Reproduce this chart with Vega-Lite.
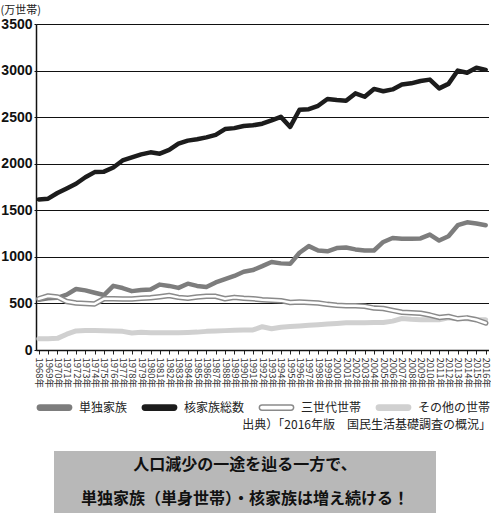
{
 "$schema": "https://vega.github.io/schema/vega-lite/v6.json",
 "padding": {"left": 0, "top": 4, "right": 0, "bottom": 5},
 "background": "white",
 "config": {"view": {"stroke": null}, "font": "Liberation Sans"},
 "datasets": {"main": [
{"year":1968,"s":"単独家族","v":540},{"year":1969,"s":"単独家族","v":555},{"year":1970,"s":"単独家族","v":560},{"year":1971,"s":"単独家族","v":595},{"year":1972,"s":"単独家族","v":655},{"year":1973,"s":"単独家族","v":640},{"year":1974,"s":"単独家族","v":615},{"year":1975,"s":"単独家族","v":590},{"year":1976,"s":"単独家族","v":689},{"year":1977,"s":"単独家族","v":665},{"year":1978,"s":"単独家族","v":632},{"year":1979,"s":"単独家族","v":643},{"year":1980,"s":"単独家族","v":650},{"year":1981,"s":"単独家族","v":702},{"year":1982,"s":"単独家族","v":688},{"year":1983,"s":"単独家族","v":667},{"year":1984,"s":"単独家族","v":712},{"year":1985,"s":"単独家族","v":688},{"year":1986,"s":"単独家族","v":676},{"year":1987,"s":"単独家族","v":725},{"year":1988,"s":"単独家族","v":760},{"year":1989,"s":"単独家族","v":795},{"year":1990,"s":"単独家族","v":840},{"year":1991,"s":"単独家族","v":858},{"year":1992,"s":"単独家族","v":900},{"year":1993,"s":"単独家族","v":945},{"year":1994,"s":"単独家族","v":930},{"year":1995,"s":"単独家族","v":925},{"year":1996,"s":"単独家族","v":1044},{"year":1997,"s":"単独家族","v":1115},{"year":1998,"s":"単独家族","v":1068},{"year":1999,"s":"単独家族","v":1060},{"year":2000,"s":"単独家族","v":1095},{"year":2001,"s":"単独家族","v":1100},{"year":2002,"s":"単独家族","v":1080},{"year":2003,"s":"単独家族","v":1068},{"year":2004,"s":"単独家族","v":1068},{"year":2005,"s":"単独家族","v":1160},{"year":2006,"s":"単独家族","v":1203},{"year":2007,"s":"単独家族","v":1195},{"year":2008,"s":"単独家族","v":1195},{"year":2009,"s":"単独家族","v":1198},{"year":2010,"s":"単独家族","v":1239},{"year":2011,"s":"単独家族","v":1175},{"year":2012,"s":"単独家族","v":1221},{"year":2013,"s":"単独家族","v":1340},{"year":2014,"s":"単独家族","v":1371},{"year":2015,"s":"単独家族","v":1358},{"year":2016,"s":"単独家族","v":1340},
{"year":1968,"s":"核家族総数","v":1617},{"year":1969,"s":"核家族総数","v":1625},{"year":1970,"s":"核家族総数","v":1685},{"year":1971,"s":"核家族総数","v":1735},{"year":1972,"s":"核家族総数","v":1785},{"year":1973,"s":"核家族総数","v":1855},{"year":1974,"s":"核家族総数","v":1910},{"year":1975,"s":"核家族総数","v":1915},{"year":1976,"s":"核家族総数","v":1960},{"year":1977,"s":"核家族総数","v":2035},{"year":1978,"s":"核家族総数","v":2068},{"year":1979,"s":"核家族総数","v":2100},{"year":1980,"s":"核家族総数","v":2122},{"year":1981,"s":"核家族総数","v":2108},{"year":1982,"s":"核家族総数","v":2148},{"year":1983,"s":"核家族総数","v":2215},{"year":1984,"s":"核家族総数","v":2248},{"year":1985,"s":"核家族総数","v":2263},{"year":1986,"s":"核家族総数","v":2283},{"year":1987,"s":"核家族総数","v":2310},{"year":1988,"s":"核家族総数","v":2372},{"year":1989,"s":"核家族総数","v":2382},{"year":1990,"s":"核家族総数","v":2405},{"year":1991,"s":"核家族総数","v":2412},{"year":1992,"s":"核家族総数","v":2430},{"year":1993,"s":"核家族総数","v":2465},{"year":1994,"s":"核家族総数","v":2503},{"year":1995,"s":"核家族総数","v":2395},{"year":1996,"s":"核家族総数","v":2579},{"year":1997,"s":"核家族総数","v":2585},{"year":1998,"s":"核家族総数","v":2622},{"year":1999,"s":"核家族総数","v":2695},{"year":2000,"s":"核家族総数","v":2684},{"year":2001,"s":"核家族総数","v":2676},{"year":2002,"s":"核家族総数","v":2755},{"year":2003,"s":"核家族総数","v":2719},{"year":2004,"s":"核家族総数","v":2803},{"year":2005,"s":"核家族総数","v":2778},{"year":2006,"s":"核家族総数","v":2798},{"year":2007,"s":"核家族総数","v":2850},{"year":2008,"s":"核家族総数","v":2863},{"year":2009,"s":"核家族総数","v":2888},{"year":2010,"s":"核家族総数","v":2903},{"year":2011,"s":"核家族総数","v":2809},{"year":2012,"s":"核家族総数","v":2857},{"year":2013,"s":"核家族総数","v":3000},{"year":2014,"s":"核家族総数","v":2976},{"year":2015,"s":"核家族総数","v":3030},{"year":2016,"s":"核家族総数","v":3008},
{"year":1968,"s":"三世代世帯","v":550},{"year":1969,"s":"三世代世帯","v":580},{"year":1970,"s":"三世代世帯","v":570},{"year":1971,"s":"三世代世帯","v":520},{"year":1972,"s":"三世代世帯","v":505},{"year":1973,"s":"三世代世帯","v":500},{"year":1974,"s":"三世代世帯","v":495},{"year":1975,"s":"三世代世帯","v":550},{"year":1976,"s":"三世代世帯","v":550},{"year":1977,"s":"三世代世帯","v":548},{"year":1978,"s":"三世代世帯","v":548},{"year":1979,"s":"三世代世帯","v":555},{"year":1980,"s":"三世代世帯","v":560},{"year":1981,"s":"三世代世帯","v":572},{"year":1982,"s":"三世代世帯","v":585},{"year":1983,"s":"三世代世帯","v":565},{"year":1984,"s":"三世代世帯","v":555},{"year":1985,"s":"三世代世帯","v":570},{"year":1986,"s":"三世代世帯","v":576},{"year":1987,"s":"三世代世帯","v":576},{"year":1988,"s":"三世代世帯","v":550},{"year":1989,"s":"三世代世帯","v":565},{"year":1990,"s":"三世代世帯","v":555},{"year":1991,"s":"三世代世帯","v":550},{"year":1992,"s":"三世代世帯","v":540},{"year":1993,"s":"三世代世帯","v":535},{"year":1994,"s":"三世代世帯","v":530},{"year":1995,"s":"三世代世帯","v":510},{"year":1996,"s":"三世代世帯","v":515},{"year":1997,"s":"三世代世帯","v":510},{"year":1998,"s":"三世代世帯","v":505},{"year":1999,"s":"三世代世帯","v":490},{"year":2000,"s":"三世代世帯","v":480},{"year":2001,"s":"三世代世帯","v":475},{"year":2002,"s":"三世代世帯","v":475},{"year":2003,"s":"三世代世帯","v":470},{"year":2004,"s":"三世代世帯","v":450},{"year":2005,"s":"三世代世帯","v":445},{"year":2006,"s":"三世代世帯","v":425},{"year":2007,"s":"三世代世帯","v":405},{"year":2008,"s":"三世代世帯","v":400},{"year":2009,"s":"三世代世帯","v":395},{"year":2010,"s":"三世代世帯","v":375},{"year":2011,"s":"三世代世帯","v":350},{"year":2012,"s":"三世代世帯","v":360},{"year":2013,"s":"三世代世帯","v":335},{"year":2014,"s":"三世代世帯","v":345},{"year":2015,"s":"三世代世帯","v":325},{"year":2016,"s":"三世代世帯","v":290},
{"year":1968,"s":"その他の世帯","v":120},{"year":1969,"s":"その他の世帯","v":120},{"year":1970,"s":"その他の世帯","v":125},{"year":1971,"s":"その他の世帯","v":170},{"year":1972,"s":"その他の世帯","v":205},{"year":1973,"s":"その他の世帯","v":210},{"year":1974,"s":"その他の世帯","v":210},{"year":1975,"s":"その他の世帯","v":208},{"year":1976,"s":"その他の世帯","v":205},{"year":1977,"s":"その他の世帯","v":200},{"year":1978,"s":"その他の世帯","v":182},{"year":1979,"s":"その他の世帯","v":190},{"year":1980,"s":"その他の世帯","v":186},{"year":1981,"s":"その他の世帯","v":185},{"year":1982,"s":"その他の世帯","v":185},{"year":1983,"s":"その他の世帯","v":186},{"year":1984,"s":"その他の世帯","v":188},{"year":1985,"s":"その他の世帯","v":192},{"year":1986,"s":"その他の世帯","v":200},{"year":1987,"s":"その他の世帯","v":205},{"year":1988,"s":"その他の世帯","v":208},{"year":1989,"s":"その他の世帯","v":212},{"year":1990,"s":"その他の世帯","v":214},{"year":1991,"s":"その他の世帯","v":215},{"year":1992,"s":"その他の世帯","v":250},{"year":1993,"s":"その他の世帯","v":228},{"year":1994,"s":"その他の世帯","v":245},{"year":1995,"s":"その他の世帯","v":252},{"year":1996,"s":"その他の世帯","v":258},{"year":1997,"s":"その他の世帯","v":265},{"year":1998,"s":"その他の世帯","v":272},{"year":1999,"s":"その他の世帯","v":278},{"year":2000,"s":"その他の世帯","v":285},{"year":2001,"s":"その他の世帯","v":292},{"year":2002,"s":"その他の世帯","v":293},{"year":2003,"s":"その他の世帯","v":293},{"year":2004,"s":"その他の世帯","v":294},{"year":2005,"s":"その他の世帯","v":296},{"year":2006,"s":"その他の世帯","v":310},{"year":2007,"s":"その他の世帯","v":338},{"year":2008,"s":"その他の世帯","v":330},{"year":2009,"s":"その他の世帯","v":325},{"year":2010,"s":"その他の世帯","v":325},{"year":2011,"s":"その他の世帯","v":325},{"year":2012,"s":"その他の世帯","v":345},{"year":2013,"s":"その他の世帯","v":338},{"year":2014,"s":"その他の世帯","v":335},{"year":2015,"s":"その他の世帯","v":328},{"year":2016,"s":"その他の世帯","v":325}
 ]},
 "center": false,
 "spacing": 20,
 "resolve": {"legend": {"color": "independent"}, "scale": {"color": "independent"}},
 "vconcat": [
  {
   "width": 452.5,
   "height": 326,
   "data": {"name": "main"},
   "title": {"text": "出典）「2016年版　国民生活基礎調査の概況」", "orient": "bottom", "anchor": "end", "font": "Noto Sans CJK JP", "fontSize": 12, "fontWeight": "normal", "color": "#222", "offset": 6},
   "encoding": {
    "x": {"field": "year", "type": "ordinal", "sort": "ascending", "scale": {"type": "point", "padding": 0.3},
      "axis": {"title": null, "labelAngle": 90, "labelExpr": "datum.label + '年'", "labelFontSize": 9.5, "labelFont": "Noto Sans CJK JP", "labelColor": "#333", "labelPadding": 3, "tickSize": 4, "tickColor": "#222", "domainColor": "#111", "domainWidth": 1.5, "labelOverlap": false, "grid": false}},
    "y": {"field": "v", "type": "quantitative", "scale": {"domain": [0, 3500]},
      "axis": {"title": "(万世帯)", "format": "d", "titleAngle": 0, "titleAlign": "left", "titleBaseline": "middle", "titleX": -36, "titleY": -14, "titleFont": "Noto Sans CJK JP", "titleFontSize": 11, "titleFontWeight": "normal", "titleColor": "#222", "values": [0,500,1000,1500,2000,2500,3000,3500], "labelFontSize": 14, "labelFontWeight": "bold", "labelColor": "#111", "labelPadding": 2, "tickSize": 2, "tickColor": "#111", "grid": true, "gridColor": "#111", "gridWidth": 1, "domainColor": "#111", "domainWidth": 1.5}},
    "color": {"field": "s", "type": "nominal",
      "scale": {"domain": ["単独家族", "核家族総数", "三世代世帯", "その他の世帯"], "range": ["#7d7d7d", "#1c1c1c", "#8a8a8a", "#d0d0d0"]},
      "legend": {"title": null, "orient": "bottom", "direction": "horizontal", "columns": 4, "offset": 1, "gridAlign": "none",
        "symbolType": "M-0.83,-0.15L0.83,-0.15A0.15,0.15,0,0,1,0.83,0.15L-0.83,0.15A0.15,0.15,0,0,1,-0.83,-0.15Z",
        "symbolSize": 1225, "symbolStrokeWidth": 1.5,
        "labelFont": "Noto Sans CJK JP", "labelFontSize": 12, "labelColor": "#222", "labelOffset": 6, "columnPadding": 11,
        "encode": {"symbols": {"update": {
          "fill": {"signal": "datum.value === '単独家族' ? '#7d7d7d' : datum.value === '核家族総数' ? '#1c1c1c' : datum.value === '三世代世帯' ? '#ffffff' : '#d0d0d0'"},
          "stroke": {"signal": "datum.value === '単独家族' ? '#7d7d7d' : datum.value === '核家族総数' ? '#1c1c1c' : datum.value === '三世代世帯' ? '#8a8a8a' : '#d0d0d0'"},
          "strokeWidth": {"value": 1.5},
          "opacity": {"value": 1}}}}}}
   },
   "layer": [
    {"transform": [{"filter": "datum.s === 'その他の世帯'"}], "mark": {"type": "line", "strokeWidth": 5, "strokeJoin": "round", "strokeCap": "round"}},
    {"transform": [{"filter": "datum.s === '単独家族'"}], "mark": {"type": "line", "strokeWidth": 4.5, "strokeJoin": "round", "strokeCap": "round"}},
    {"transform": [{"filter": "datum.s === '核家族総数'"}], "mark": {"type": "line", "strokeWidth": 4.5, "strokeJoin": "round", "strokeCap": "round"}},
    {"transform": [{"filter": "datum.s === '三世代世帯'"}], "mark": {"type": "line", "strokeWidth": 5.5, "strokeJoin": "round", "strokeCap": "round"}},
    {"transform": [{"filter": "datum.s === '三世代世帯'"}], "mark": {"type": "line", "strokeWidth": 2.5, "strokeJoin": "round", "strokeCap": "round"}, "encoding": {"color": {"value": "#ffffff"}}}
   ]
  },
  {
   "spacing": 10,
   "hconcat": [
    {
     "width": 8,
     "height": 62,
     "data": {"values": [{"t": ""}]},
     "mark": {"type": "text"},
     "encoding": {"text": {"field": "t"}}
    },
    {
     "width": 382,
     "height": 62,
     "view": {"fill": "#b8b8b8", "stroke": null},
     "data": {"values": [{"line": 1, "t": "人口減少の一途を辿る一方で、"}, {"line": 2, "t": "単独家族（単身世帯）・核家族は増え続ける！"}]},
     "mark": {"type": "text", "font": "Noto Sans CJK JP", "fontSize": 16, "fontWeight": "bold", "color": "#111"},
     "encoding": {
      "y": {"field": "line", "type": "ordinal", "axis": null, "scale": {"type": "point", "padding": 0.39}},
      "text": {"field": "t"}
     }
    }
   ]
  }
 ]
}
